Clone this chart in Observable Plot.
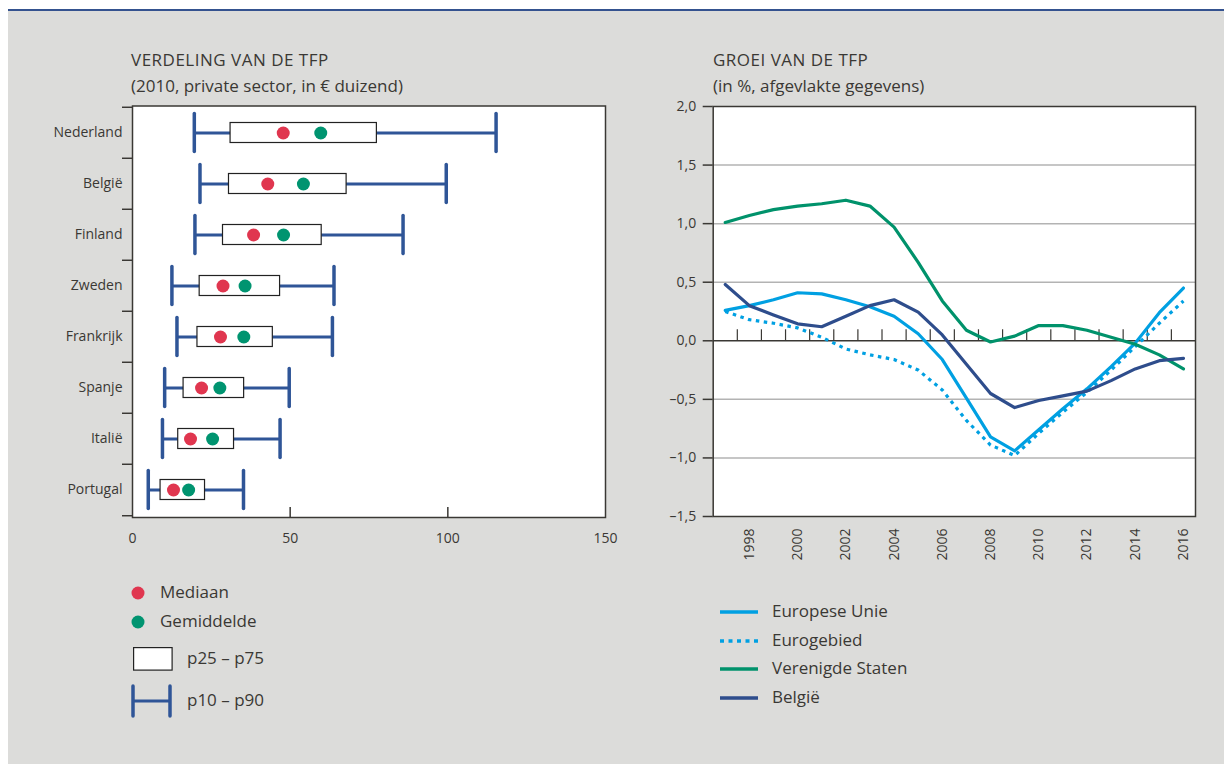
<!DOCTYPE html>
<html><head><meta charset="utf-8">
<script src="https://cdn.jsdelivr.net/npm/d3@7"></script>
<script src="https://cdn.jsdelivr.net/npm/@observablehq/plot@0.6"></script>
<style>
body{margin:0;background:#fff;font-family:"Open Sans",sans-serif;color:#3a3834;width:1224px;height:764px;overflow:hidden;position:relative}
#panel{position:absolute;left:8px;top:9px;width:1216px;height:755px;background:#dcdcda;border-top:2px solid #34528f}
.abs{position:absolute}
.title{font-size:17px;line-height:26px;white-space:nowrap}
.title .cap{letter-spacing:0.5px}
.leg{font-size:17px;white-space:nowrap;line-height:22px}
.sw svg{display:block}
svg{overflow:visible}
</style></head><body>
<div id="panel"></div>
<script>
// ---------- data ----------
const countries = ["Nederland","België","Finland","Zweden","Frankrijk","Spanje","Italië","Portugal"];
const p10    = [19.6, 21.4, 19.8, 12.5, 14.1, 10.2,  9.5,  5.0];
const p25    = [31.1, 30.6, 28.7, 21.3, 20.6, 16.2, 14.5,  8.9];
const p75    = [77.5, 67.9, 60.0, 46.8, 44.5, 35.4, 32.2, 23.0];
const p90    = [115.3,99.5, 85.8, 63.9, 63.4, 49.7, 46.8, 35.2];
const median = [47.8, 42.9, 38.4, 28.7, 27.9, 21.9, 18.4, 13.0];
const mean   = [59.7, 54.2, 47.9, 35.7, 35.3, 27.7, 25.4, 17.8];
const leftTicks = [0, 50, 100, 150];
const leftInnerTicks = [50, 100];

const years = [1997,1998,1999,2000,2001,2002,2003,2004,2005,2006,2007,2008,2009,2010,2011,2012,2013,2014,2015,2016];
const euValues = [0.26,0.30,0.35,0.41,0.40,0.35,0.29,0.21,0.06,-0.16,-0.49,-0.82,-0.94,-0.76,-0.58,-0.41,-0.22,-0.02,0.24,0.45];
const eaValues = [0.25,0.18,0.15,0.11,0.03,-0.07,-0.12,-0.16,-0.25,-0.42,-0.68,-0.89,-0.98,-0.79,-0.61,-0.44,-0.25,-0.05,0.15,0.34];
const usValues = [1.01,1.07,1.12,1.15,1.17,1.20,1.15,0.97,0.67,0.34,0.09,-0.01,0.04,0.13,0.13,0.09,0.03,-0.03,-0.12,-0.24];
const beValues = [0.48,0.30,0.22,0.145,0.12,0.21,0.30,0.35,0.245,0.05,-0.20,-0.45,-0.57,-0.51,-0.47,-0.43,-0.34,-0.24,-0.17,-0.15];
const seriesNames = ["Europese Unie","Eurogebied","Verenigde Staten","België"];
const yearLabels = [1998,2000,2002,2004,2006,2008,2010,2012,2014,2016];
const yearBounds = [1997.5,1998.5,1999.5,2000.5,2001.5,2002.5,2003.5,2004.5,2005.5,2006.5,2007.5,2008.5,2009.5,2010.5,2011.5,2012.5,2013.5,2014.5,2015.5];
const rightYTicks = [2.0,1.5,1.0,0.5,0.0,-0.5,-1.0,-1.5];
const rightGrid = [1.5,1.0,0.5,-0.5,-1.0];
const leftLegend = ["Mediaan","Gemiddelde","p25 – p75","p10 – p90"];

// ---------- colors ----------
const RED = "#e0364f", GREEN = "#009470", WBLUE = "#2f5597";
const C_EU = "#00a0e2", C_US = "#00926b", C_BE = "#2e4d8c";
const INK = "#3a3834";

// ---------- left chart ----------
const rows = countries.map((c,i)=>({country:c,p10:p10[i],p25:p25[i],p75:p75[i],p90:p90[i],median:median[i],mean:mean[i]}));
const LH = 470, LMT = 10.5, LMB = 48;
const bw = (LH - LMT - LMB) / countries.length;
const left = Plot.plot({
  width: 600, height: LH,
  marginLeft: 122, marginRight: 5, marginTop: LMT, marginBottom: LMB,
  x: {domain: [0,150], label: null},
  y: {domain: countries, padding: 0, label: null},
  style: {background: "transparent", fontFamily: "Open Sans", fontSize: "14px", color: INK, overflow: "visible"},
  marks: [
    Plot.frame({fill: "white"}),
    Plot.ruleY(rows, {y: "country", x1: "p10", x2: "p90", stroke: WBLUE, strokeWidth: 3}),
    Plot.tickX(rows, {y: "country", x: "p10", stroke: WBLUE, strokeWidth: 3.5, insetTop: 6.5, insetBottom: 6.5, strokeLinecap: "round"}),
    Plot.tickX(rows, {y: "country", x: "p90", stroke: WBLUE, strokeWidth: 3.5, insetTop: 6.5, insetBottom: 6.5, strokeLinecap: "round"}),
    Plot.barX(rows, {y: "country", x1: "p25", x2: "p75", fill: "white", stroke: "#222", strokeWidth: 1.2, insetTop: 15.5, insetBottom: 15.5}),
    Plot.dot(rows, {y: "country", x: "median", r: 6.5, fill: RED}),
    Plot.dot(rows, {y: "country", x: "mean", r: 6.5, fill: GREEN}),
    Plot.frame({stroke: INK, strokeWidth: 1.5}),
    Plot.axisY({tickSize: 0, tickPadding: 10, fontSize: 14}),
    Plot.axisY({tickSize: 10, tickFormat: () => "", dy: -bw/2, strokeWidth: 1.5}),
    Plot.axisY({ticks: ["Portugal"], tickSize: 10, tickFormat: () => "", dy: bw/2, strokeWidth: 1.5}),
    Plot.axisX({ticks: leftTicks, tickSize: 0, tickPadding: 16, fontSize: 14}),
    Plot.axisX({ticks: leftInnerTicks, tickSize: 10, tickFormat: () => "", dy: -10, strokeWidth: 1.5})
  ]
});
left.style.position = "absolute"; left.style.left = "10px"; left.style.top = "95px";
document.body.appendChild(left);

// ---------- right chart ----------
const valuesBySeries = [euValues, eaValues, usValues, beValues];
const lineData = seriesNames.flatMap((s,k)=>years.map((y,i)=>({series:s, year:y, value:valuesBySeries[k][i]})));
const fmt = d => (d < 0 ? "–" : "") + Math.abs(d).toFixed(1).replace(".", ",");
const right = Plot.plot({
  width: 570, height: 480,
  marginLeft: 72.7, marginRight: 15, marginTop: 11, marginBottom: 59,
  x: {domain: [1996.5, 2016.5], label: null},
  y: {domain: [-1.5, 2.0], label: null},
  style: {background: "transparent", fontFamily: "Open Sans", fontSize: "14px", color: INK, overflow: "visible"},
  marks: [
    Plot.frame({fill: "white"}),
    Plot.ruleY(rightGrid, {stroke: "#b3b3b3", strokeWidth: 1.5}),
    Plot.ruleY([0], {stroke: INK, strokeWidth: 1.5}),
    Plot.ruleX(yearBounds, {y1: 0, y2: 0.094, stroke: INK, strokeWidth: 1.2}),
    Plot.line(lineData.filter(d=>d.series==="Eurogebied"), {x: "year", y: "value", stroke: C_EU, strokeWidth: 3.2, strokeDasharray: "3.5,4.5", strokeLinecap: "butt"}),
    Plot.line(lineData.filter(d=>d.series==="Europese Unie"), {x: "year", y: "value", stroke: C_EU, strokeWidth: 3.2}),
    Plot.line(lineData.filter(d=>d.series==="Verenigde Staten"), {x: "year", y: "value", stroke: C_US, strokeWidth: 3.2}),
    Plot.line(lineData.filter(d=>d.series==="België"), {x: "year", y: "value", stroke: C_BE, strokeWidth: 3.2}),
    Plot.frame({stroke: INK, strokeWidth: 1.5}),
    Plot.axisY({ticks: rightYTicks, tickSize: 10, tickPadding: 7, tickFormat: fmt, fontSize: 14, strokeWidth: 1.5}),
    Plot.axisX({ticks: yearLabels, tickSize: 0, tickPadding: 12, tickRotate: -90, tickFormat: d => String(d), fontSize: 14})
  ]
});
right.style.position = "absolute"; right.style.left = "640px"; right.style.top = "95px";
document.body.appendChild(right);

// ---------- titles ----------
function addDiv(cls, x, y, html){ const d = document.createElement("div"); d.className = "abs " + cls; d.style.left = x + "px"; d.style.top = y + "px"; d.innerHTML = html; document.body.appendChild(d); return d; }
addDiv("title", 131, 47, "<span class='cap'>VERDELING VAN DE TFP</span><br>(2010, private sector, in € duizend)");
addDiv("title", 713, 47, "<span class='cap'>GROEI VAN DE TFP</span><br>(in %, afgevlakte gegevens)");

// ---------- left legend ----------
const ls = [
  {y: 593, sw: `<svg width="14" height="14"><circle cx="7" cy="7" r="6.5" fill="${RED}"/></svg>`, sx: 131, tx: 160},
  {y: 622, sw: `<svg width="14" height="14"><circle cx="7" cy="7" r="6.5" fill="${GREEN}"/></svg>`, sx: 131, tx: 160},
  {y: 658.5, sw: `<svg width="40" height="24"><rect x="0.6" y="0.6" width="38.5" height="22.5" fill="white" stroke="#222" stroke-width="1.2"/></svg>`, sx: 133, tx: 187},
  {y: 701, sw: `<svg width="42" height="34"><line x1="2" y1="17" x2="39" y2="17" stroke="${WBLUE}" stroke-width="3"/><line x1="2" y1="2" x2="2" y2="32" stroke="${WBLUE}" stroke-width="3.5" stroke-linecap="round"/><line x1="39" y1="2" x2="39" y2="32" stroke="${WBLUE}" stroke-width="3.5" stroke-linecap="round"/></svg>`, sx: 131, tx: 187}
];
ls.forEach((o,i)=>{
  const s = addDiv("sw", o.sx, 0, o.sw); const h = +s.firstChild.getAttribute("height"); s.style.top = (o.y - h/2) + "px";
  addDiv("leg", o.tx, o.y - 12, leftLegend[i]);
});

// ---------- right legend ----------
const rl = [611.7, 640.7, 669, 697.7];
const rc = [C_EU, C_EU, C_US, C_BE];
seriesNames.forEach((s,i)=>{
  const dash = s === "Eurogebied" ? ` stroke-dasharray="4,4.5"` : "";
  addDiv("sw", 720, rl[i] - 3, `<svg width="38" height="6"><line x1="0" y1="3" x2="38" y2="3" stroke="${rc[i]}" stroke-width="3.4"${dash}/></svg>`);
  addDiv("leg", 772, rl[i] - 12, s);
});
</script>
</body></html>
